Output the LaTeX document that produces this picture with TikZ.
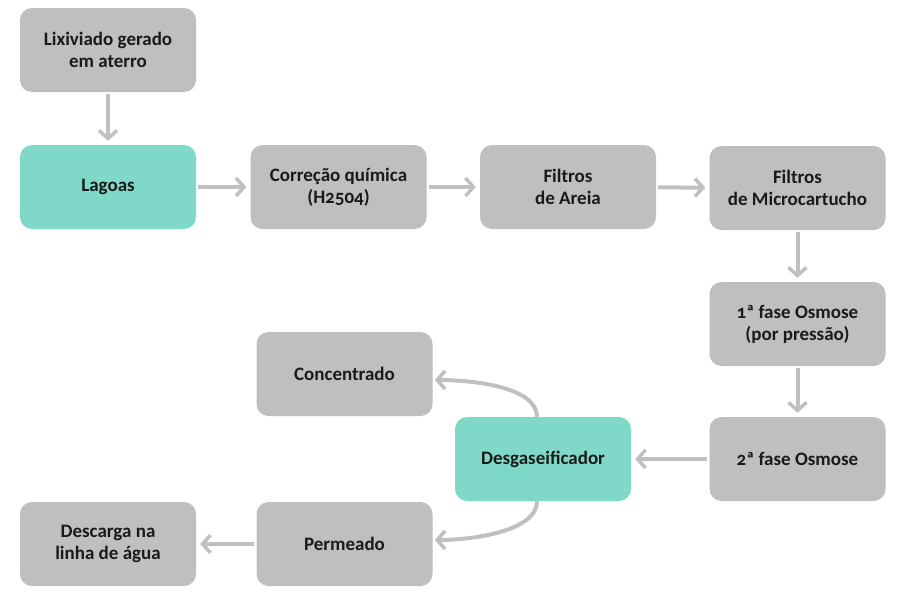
\documentclass[tikz,border=0pt]{standalone}
\usepackage{fontspec}
\setmainfont[Numbers=OldStyle]{Carlito}
\usetikzlibrary{arrows.meta,calc}
\definecolor{boxgray}{HTML}{BFBFBF}
\definecolor{boxteal}{HTML}{80D9C8}
\definecolor{arrgray}{HTML}{C0C0C0}
\definecolor{txt}{HTML}{1A1A1A}
\begin{document}
\begin{tikzpicture}[x=1pt,y=-1pt,
  stepbox/.style={rectangle, rounded corners=12pt, fill=boxgray, minimum width=176pt, minimum height=84pt, inner sep=0pt, align=center, text=txt, font=\fontsize{19}{22}\selectfont\bfseries},
  tealbox/.style={stepbox, fill=boxteal},
  conn/.style={draw=arrgray, line width=4pt, -{Straight Barb[length=8pt,width=18pt,line width=3.5pt]}, shorten <=2pt, shorten >=4pt}]
\useasboundingbox (0,0) rectangle (900,598);
\node[stepbox] (lix) at (108,50) {Lixiviado gerado\\em aterro};
\node[tealbox] (lag) at (108,187) {Lagoas};
\node[stepbox] (cor) at (338.5,187) {Correção química\\(H2504)};
\node[stepbox] (are) at (568,187) {Filtros\\de Areia};
\node[stepbox] (mic) at (797.5,188) {Filtros\\de Microcartucho};
\node[stepbox] (os1) at (797.5,324) {1ª fase Osmose\\(por pressão)};
\node[stepbox] (os2) at (797.5,459) {2ª fase Osmose};
\node[tealbox] (des) at (543,459) {Desgaseificador};
\node[stepbox] (con) at (344.5,374) {Concentrado};
\node[stepbox] (per) at (344.5,544) {Permeado};
\node[stepbox] (dsc) at (108,544) {Descarga na\\linha de água};
\draw[conn] (lix) -- (lag);
\draw[conn] (lag) -- (cor);
\draw[conn] (cor) -- (are);
\draw[conn] (are) -- (mic);
\draw[conn] (mic) -- (os1);
\draw[conn] (os1) -- (os2);
\draw[conn] (os2) -- (des);
\draw[conn] (per) -- (dsc);
\coordinate (dtop) at ($(des.north)+(-6,0)$);
\coordinate (dbot) at ($(des.south)+(-6,0)$);
\coordinate (cend) at ($(con.east)+(0,6)$);
\coordinate (pend) at ($(per.east)+(0,-4)$);
\draw[conn, shorten <=0pt, shorten >=2pt] (dtop) .. controls ($(dtop)+(0,-30)$) and ($(cend)+(40,0)$) .. (cend);
\draw[conn, shorten <=0pt, shorten >=2pt] (dbot) .. controls ($(dbot)+(0,30)$) and ($(pend)+(40,0)$) .. (pend);
\end{tikzpicture}
\end{document}
